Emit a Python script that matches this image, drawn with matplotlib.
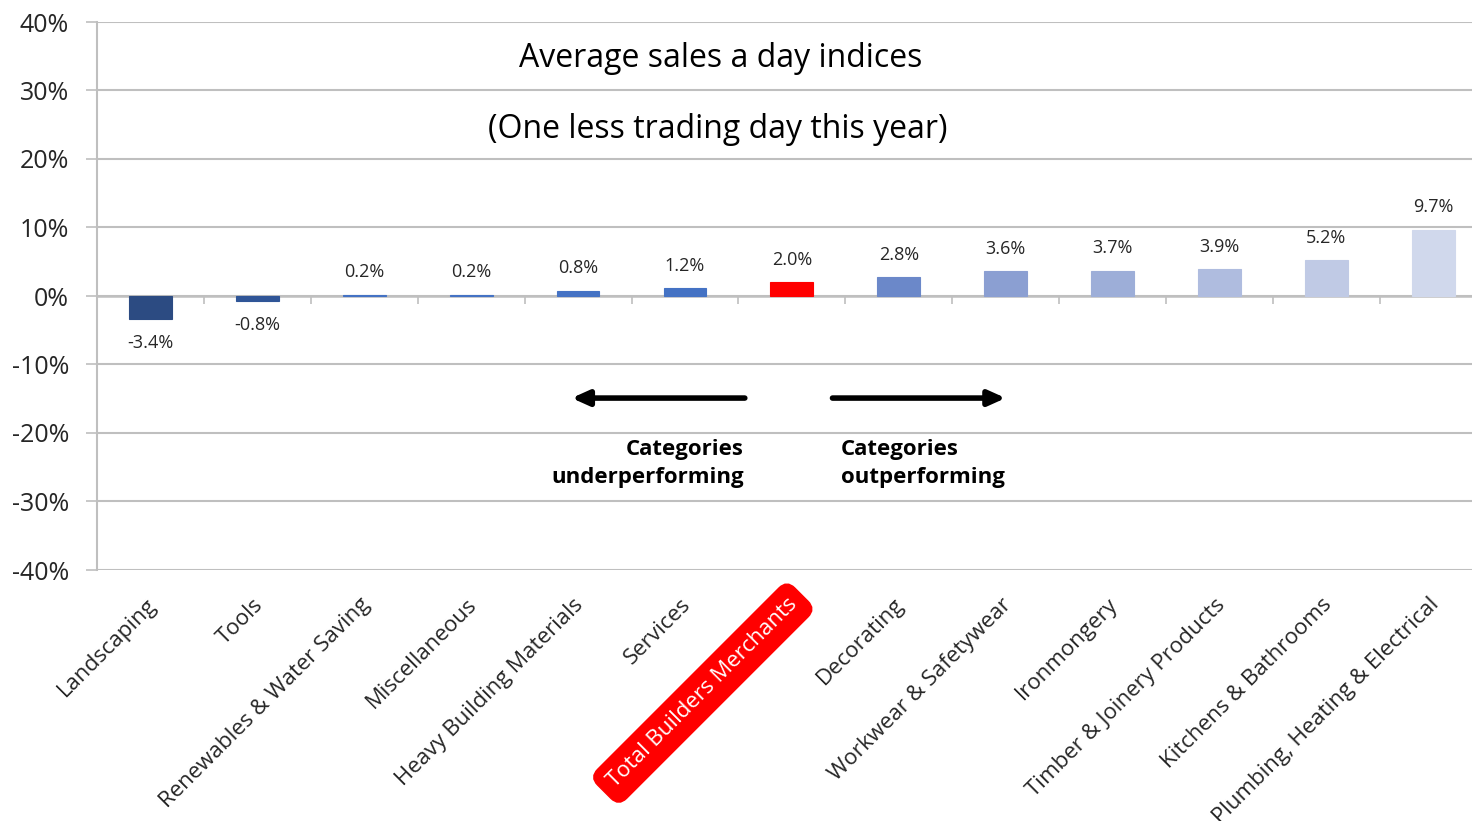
import matplotlib.pyplot as plt
import matplotlib.transforms as mtransforms
import numpy as np

# categories and values (percent)
categories = ['Landscaping', 'Tools', 'Renewables & Water Saving', 'Miscellaneous',
              'Heavy Building Materials', 'Services', 'Total Builders Merchants',
              'Decorating', 'Workwear & Safetywear', 'Ironmongery',
              'Timber & Joinery Products', 'Kitchens & Bathrooms',
              'Plumbing, Heating & Electrical']
values = [-3.4, -0.8, 0.2, 0.2, 0.8, 1.2, 2.0, 2.8, 3.6, 3.7, 3.9, 5.2, 9.7]
bar_colors = ['#2C4B82', '#2F5597', '#4472C4', '#4472C4', '#4472C4', '#4472C4',
              '#FF0000', '#6B88C9', '#8B9FD2', '#9DAED8', '#AFBCDF', '#C0CAE5',
              '#D0D8EC']
total_name = 'Total Builders Merchants'

plt.rcParams['font.family'] = ['Open Sans', 'DejaVu Sans']

fig = plt.figure(figsize=(14.72, 8.21), dpi=100)
ax = fig.add_axes([97 / 1472, 1 - 570 / 821, 1 - 97 / 1472, (570 - 22) / 821])

x = np.arange(len(categories))
ax.bar(x, values, width=0.4, color=bar_colors, edgecolor=bar_colors, linewidth=0.8, zorder=3)

for xi, v in zip(x, values):
    off = 16 if v >= 0 else -17
    ax.annotate('%.1f%%' % v, (xi, v), xytext=(0, off), textcoords='offset points',
                ha='center', va='center', fontsize=13, color='#262626')

ax.set_ylim(-40, 40)
ax.set_xlim(-0.5, -0.5 + 1375 / 106.9)
ax.set_yticks(np.arange(-40, 41, 10))
ax.set_yticklabels(['%d%%' % t for t in np.arange(-40, 41, 10)], fontsize=18, color='#262626')
ax.yaxis.grid(True, color='#BFBFBF', linewidth=1.5, zorder=0)
ax.tick_params(axis='y', length=8, color='#BFBFBF', width=1.2, pad=12)

# category boundary marks under the zero line
ax.vlines(x[:-1] + 0.5, -1.1, 0, color='#BFBFBF', linewidth=1.2, zorder=2)
ax.axhline(0, color='#BFBFBF', linewidth=1.8, zorder=2)

ax.set_xticks(x)
ax.set_xticklabels(categories, rotation=45, ha='right', rotation_mode='anchor',
                   fontsize=16, color='#262626')
ax.tick_params(axis='x', length=0, pad=16)
shift = mtransforms.ScaledTranslation(-5 / 100, -2 / 100, fig.dpi_scale_trans)
for lab in ax.get_xticklabels():
    lab.set_transform(lab.get_transform() + shift)
    if lab.get_text() == total_name:
        lab.set_color('white')
        lab.set_bbox(dict(boxstyle='round,pad=0.45,rounding_size=0.5',
                          fc='#FF0000', ec='#FF0000'))

for s in ['top', 'right', 'bottom']:
    ax.spines[s].set_visible(False)
ax.spines['left'].set_color('#BFBFBF')
ax.spines['left'].set_linewidth(1.5)

ax.text(5.33, 34.7, 'Average sales a day indices', ha='center', va='center', fontsize=23, color='black')
ax.text(5.31, 24.3, '(One less trading day this year)', ha='center', va='center', fontsize=23, color='black')

# arrows
arrow_style = dict(arrowstyle='-|>,head_length=1.0,head_width=0.45', lw=4, color='black',
                   shrinkA=0, shrinkB=0)
ax.annotate('', xy=(3.94, -14.9), xytext=(5.56, -14.9), arrowprops=arrow_style)
ax.annotate('', xy=(8.0, -14.9), xytext=(6.38, -14.9), arrowprops=arrow_style)
ax.text(5.55, -24.5, 'Categories\nunderperforming', ha='right', va='center',
        fontsize=16, fontweight='bold', linespacing=1.45)
ax.text(6.46, -24.5, 'Categories\noutperforming', ha='left', va='center',
        fontsize=16, fontweight='bold', linespacing=1.45)

fig.savefig('out.png', dpi=100)
